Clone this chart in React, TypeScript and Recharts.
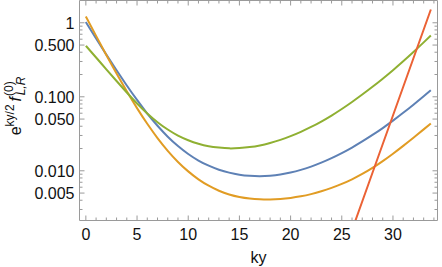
import React from 'react';
import { LineChart, Line, XAxis, YAxis } from 'recharts';

// ---------- data ----------
const KY = [0, 1, 2, 3, 4, 5, 6, 7, 8, 9, 10, 11, 12, 13, 14, 15, 16, 17, 18, 19, 20, 21, 22, 23, 24, 25, 26, 27, 28, 29, 30, 31, 32, 33, 33.7];
const BLUE = [1.023, 0.6138, 0.3715, 0.228, 0.1422, 0.0906, 0.0594, 0.0406, 0.0289, 0.0216, 0.01687, 0.01377, 0.01172, 0.01035, 0.00944, 0.00887, 0.00857, 0.00847, 0.00859, 0.00891, 0.00946, 0.01028, 0.0114, 0.01288, 0.01483, 0.01734, 0.0206, 0.0249, 0.0305, 0.0378, 0.0476, 0.0607, 0.0782, 0.1016, 0.1227];
const ORANGE = [1.216, 0.6653, 0.3673, 0.2065, 0.1189, 0.0703, 0.0432, 0.0277, 0.01862, 0.01318, 0.00982, 0.00767, 0.00628, 0.00537, 0.00479, 0.00443, 0.00422, 0.00412, 0.0041, 0.00416, 0.0043, 0.00452, 0.00484, 0.00528, 0.00587, 0.00665, 0.00767, 0.00906, 0.01094, 0.01352, 0.01702, 0.02173, 0.028, 0.0363, 0.0437];
const GREEN = [0.4887, 0.3396, 0.235, 0.1633, 0.1143, 0.0813, 0.0596, 0.0454, 0.0361, 0.0299, 0.0259, 0.0232, 0.0215, 0.0206, 0.0201, 0.0203, 0.0209, 0.022, 0.0238, 0.0262, 0.0294, 0.0336, 0.0391, 0.0463, 0.0558, 0.0684, 0.0851, 0.1072, 0.1365, 0.1758, 0.2291, 0.302, 0.4027, 0.5433, 0.673];
const RED_KY = [26, 28, 30, 32, 33.7];
const RED = [0.00158, 0.0094, 0.0558, 0.332, 1.51];

const X_TICKS = [0, 1, 2, 3, 4, 5, 6, 7, 8, 9, 10, 11, 12, 13, 14, 15, 16, 17, 18, 19, 20, 21, 22, 23, 24, 25, 26, 27, 28, 29, 30, 31, 32, 33, 34];
const X_LABELED = [0, 5, 10, 15, 20, 25, 30];
const Y_MAJOR = [0.005, 0.01, 0.05, 0.1, 0.5, 1];
const Y_LABELS = ['0.005', '0.010', '0.050', '0.100', '0.500', '1'];
const Y_MINOR = [0.003, 0.004, 0.006, 0.007, 0.008, 0.009, 0.02, 0.03, 0.04, 0.06, 0.07, 0.08, 0.09, 0.2, 0.3, 0.4, 0.6, 0.7, 0.8, 0.9];

const X_DOMAIN: [number, number] = [-0.62, 34.35];
const Y_DOMAIN: [number, number] = [0.00213, 2.0];

const mainData = KY.map((ky, i) => ({ ky, blue: BLUE[i], orange: ORANGE[i], green: GREEN[i] }));
const redData = RED_KY.map((ky, i) => ({ ky, red: RED[i] }));
const Y_TICKS = [...Y_MAJOR, ...Y_MINOR].sort((a, b) => a - b);

const FRAME = '#9a9a9a';
const TEXT = '#111';
const FONT = '"Liberation Sans", Arial, sans-serif';

const XTick = (props: any) => {
  const { x, y, payload, top } = props;
  const v = payload.value;
  const major = X_LABELED.includes(v);
  const len = major ? 5 : 3;
  return (
    <g>
      <line x1={x} x2={x} y1={y} y2={top ? y + len : y - len} stroke={FRAME} strokeWidth={1} />
      {!top && major && (
        <text x={x} y={y + 19} textAnchor="middle" fontSize={16} fontFamily={FONT} fill={TEXT}>
          {v}
        </text>
      )}
    </g>
  );
};

const YTick = (props: any) => {
  const { x, y, payload, right } = props;
  const v = payload.value;
  const idx = Y_MAJOR.findIndex((m) => Math.abs(m - v) / m < 1e-6);
  const major = idx >= 0;
  const len = major ? 5 : 3;
  return (
    <g>
      <line x1={x} x2={right ? x - len : x + len} y1={y} y2={y} stroke={FRAME} strokeWidth={1} />
      {!right && major && (
        <text x={x - 5} y={y} dy="0.36em" textAnchor="end" fontSize={16} fontFamily={FONT} fill={TEXT}>
          {Y_LABELS[idx]}
        </text>
      )}
    </g>
  );
};

export default function App() {
  return (
    <div style={{ position: 'absolute', left: 0, top: 0, width: 442, height: 267, background: '#fff' }}>
      <LineChart width={442} height={267} margin={{ top: -0.5, right: 0, bottom: 0, left: 0 }}>
        <XAxis
          xAxisId="b"
          dataKey="ky"
          type="number"
          domain={X_DOMAIN}
          allowDataOverflow
          ticks={X_TICKS}
          interval={0}
          height={46.5}
          tickSize={0}
          tickMargin={0}
          tickLine={false}
          axisLine={{ stroke: FRAME }}
          tick={(p: any) => <XTick {...p} />}
        />
        <XAxis
          xAxisId="t"
          orientation="top"
          dataKey="ky"
          type="number"
          domain={X_DOMAIN}
          allowDataOverflow
          ticks={X_TICKS}
          interval={0}
          height={1}
          tickSize={0}
          tickMargin={0}
          tickLine={false}
          axisLine={{ stroke: FRAME }}
          tick={(p: any) => <XTick {...p} top />}
        />
        <YAxis
          yAxisId="l"
          scale="log"
          type="number"
          domain={Y_DOMAIN}
          allowDataOverflow
          ticks={Y_TICKS}
          interval={0}
          width={79.5}
          tickSize={0}
          tickMargin={0}
          tickLine={false}
          axisLine={{ stroke: FRAME }}
          tick={(p: any) => <YTick {...p} />}
        />
        <YAxis
          yAxisId="r"
          orientation="right"
          scale="log"
          type="number"
          domain={Y_DOMAIN}
          allowDataOverflow
          ticks={Y_TICKS}
          interval={0}
          width={4.5}
          tickSize={0}
          tickMargin={0}
          tickLine={false}
          axisLine={{ stroke: FRAME }}
          tick={(p: any) => <YTick {...p} right />}
        />
        <Line xAxisId="b" yAxisId="l" data={mainData} dataKey="blue" type="natural" stroke="#5E81B5" strokeWidth={2} dot={false} isAnimationActive={false} />
        <Line xAxisId="b" yAxisId="l" data={mainData} dataKey="orange" type="natural" stroke="#E19C24" strokeWidth={2} dot={false} isAnimationActive={false} />
        <Line xAxisId="b" yAxisId="l" data={mainData} dataKey="green" type="natural" stroke="#8FB032" strokeWidth={2} dot={false} isAnimationActive={false} />
        <Line xAxisId="b" yAxisId="l" data={redData} dataKey="red" type="linear" stroke="#EB6235" strokeWidth={2} dot={false} isAnimationActive={false} />
      </LineChart>
      <svg width={442} height={267} style={{ position: 'absolute', left: 0, top: 0, pointerEvents: 'none' }}>
        <text x={258.5} y={263} textAnchor="middle" fontSize={16} fontFamily={FONT} fill={TEXT}>ky</text>
        <text transform="translate(21,106) rotate(-90)" textAnchor="middle" fontSize={16} fontFamily={FONT} fill={TEXT}>
          <tspan>e</tspan>
          <tspan fontSize={12} dy={-7}>ky/2</tspan>
          <tspan fontSize={16} dy={7} dx={3} fontStyle="italic">f</tspan>
          <tspan fontSize={12} dy={-8} dx={1}>(0)</tspan>
          <tspan fontSize={12} fontStyle="italic" dx={-14} dy={12}>L,R</tspan>
        </text>
      </svg>
    </div>
  );
}
